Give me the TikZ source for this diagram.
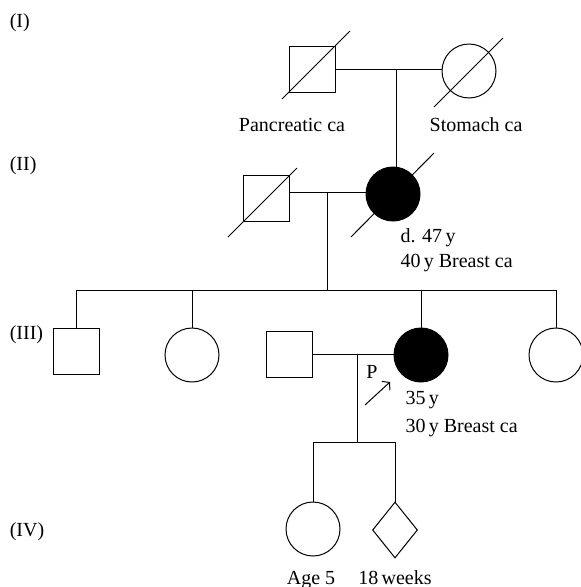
\documentclass[tikz,border=0pt]{standalone}
\usepackage{fontspec}
\setmainfont{Liberation Serif}
\usetikzlibrary{shapes.geometric,arrows.meta}

\begin{document}
\begin{tikzpicture}[x=1pt,y=-1pt,line width=1pt,
  every node/.style={font=\fontsize{20}{24}\selectfont},
  male/.style={draw,rectangle,minimum size=46pt,inner sep=0pt},
  female/.style={draw,circle,minimum size=54pt,inner sep=0pt},
  unknown/.style={draw,diamond,minimum width=45pt,minimum height=56pt,inner sep=0pt},
  affected/.style={fill=black}]
  \useasboundingbox (0,0) rectangle (581,587);
  % generation labels
  \node[anchor=base west] (genI) at (6,27) {(I)};
  \node[anchor=base west] (genII) at (6,170) {(II)};
  \node[anchor=base west] (genIII) at (6,339) {(III)};
  \node[anchor=base west] (genIV) at (6,536) {(IV)};
  % individuals
  \node[male] (I1) at (312,69) {};
  \node[female] (I2) at (469,71) {};
  \node[male] (II1) at (266,198) {};
  \node[female,affected] (II2) at (393,194) {};
  \node[male] (III1) at (76,351) {};
  \node[female] (III2) at (192,355) {};
  \node[male] (III3) at (289,354) {};
  \node[female,affected] (III4) at (421,355) {};
  \node[female] (III5) at (556,355) {};
  \node[female] (IV1) at (313,529) {};
  \node[unknown] (IV2) at (395,530) {};
  % deceased
  \draw ([shift={(-30,30)}]I1.center) -- ([shift={(38,-38)}]I1.center);
  \draw ([shift={(-35,36)}]I2.center) -- ([shift={(34,-33)}]I2.center);
  \draw ([shift={(-38,39)}]II1.center) -- ([shift={(31,-30)}]II1.center);
  \draw ([shift={(-42,43)}]II2.center) -- ([shift={(41,-41)}]II2.center);
  % lines of descent
  \coordinate (Im) at (396,69);
  \coordinate (IIm) at (327,192);
  \coordinate (IIIs) at (327,290);
  \coordinate (IIIm) at (357,354);
  \coordinate (IVs) at (357,442);
  \draw (I1.east) -- (I1.east -| I2.west);
  \draw (Im) -- (Im |- II2.north);
  \draw (II1.east |- IIm) -- (II2.west |- IIm);
  \draw (IIm) -- (IIIs);
  \draw (III1.north |- IIIs) -- (III5.north |- IIIs);
  \foreach \p in {III1,III2,III4,III5}
    \draw (\p.north |- IIIs) -- (\p.north);
  \draw (III3.east) -- (III3.east -| III4.west);
  \draw (IIIm) -- (IVs);
  \draw (IV1.north |- IVs) -- (IV2.north |- IVs);
  \foreach \p in {IV1,IV2}
    \draw (\p.north |- IVs) -- (\p.north);
  % proband
  \coordinate (pa) at (365,405);
  \coordinate (pb) at (390,382);
  \draw[-{Straight Barb[length=5pt,width=12pt]}] (pa) -- (pb);
  \node[anchor=base] (pP) at (372,378) {P};
  % notes
  \node[anchor=base] (nI1) at (292,131) {Pancreatic ca};
  \node[anchor=base] (nI2) at (476,131) {Stomach ca};
  \node[anchor=base west,inner sep=0pt] (nII2a) at (400,242) {d. 47\,y};
  \node[anchor=base west,inner sep=0pt] (nII2b) at (400,267) {40\,y Breast ca};
  \node[anchor=base west,inner sep=0pt] (nIII4a) at (405,404) {35\,y};
  \node[anchor=base west,inner sep=0pt] (nIII4b) at (405,432) {30\,y Breast ca};
  \node[anchor=base] (nIV1) at (311,584) {Age 5};
  \node[anchor=base] (nIV2) at (395,584) {18\,weeks};
\end{tikzpicture}
\end{document}
